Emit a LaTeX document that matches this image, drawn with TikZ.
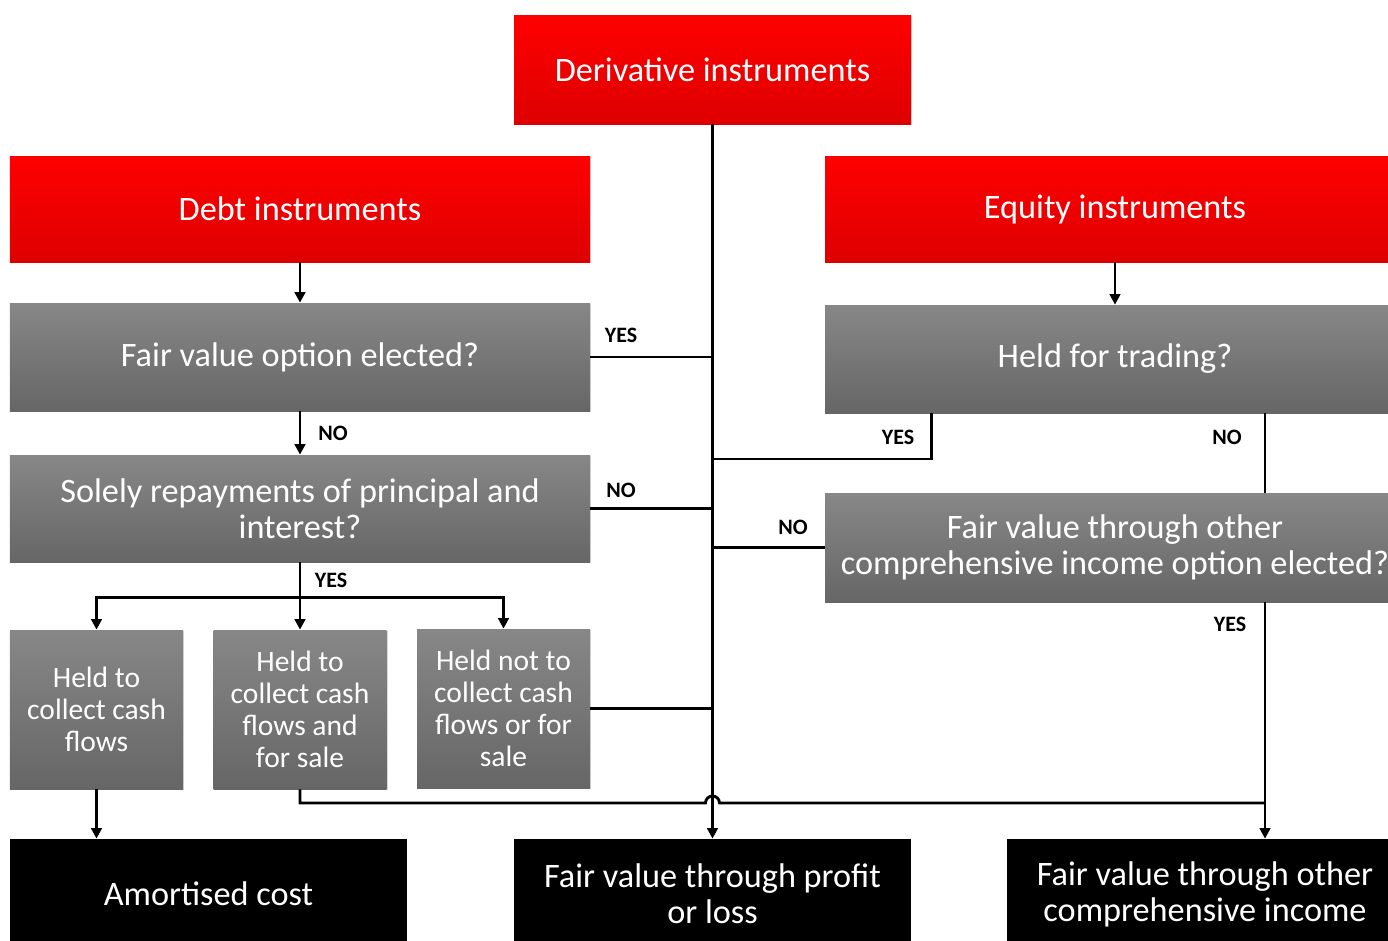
\documentclass[tikz,border=0pt]{standalone}
\usepackage{fontspec}
\setmainfont{Carlito}
\usetikzlibrary{arrows.meta, shadows, calc}

\begin{document}
\begin{tikzpicture}
	\tikzstyle{box} = [rectangle,draw=none,text=white,align=center,inner sep=2pt,drop shadow={opacity=0.3,shadow xshift=0.7pt,shadow yshift=-0.7pt}]
	\tikzstyle{redbox} = [box,top color=red,bottom color=red!87!black,font=\fontsize{19.5}{20.5}\selectfont]
	\tikzstyle{greybox} = [box,top color=black!47,bottom color=black!60,font=\fontsize{19.5}{20.5}\selectfont]
	\tikzstyle{smallbox} = [greybox,font=\fontsize{16.8}{18.2}\selectfont]
	\tikzstyle{blackbox} = [rectangle,fill=black,text=white,align=center,font=\fontsize{19.5}{20.5}\selectfont]
	\tikzstyle{line} = [line width=1.6pt,-]
	\tikzstyle{arrow} = [line width=1.6pt,-{Triangle[length=6pt,width=6pt]}]
	\tikzstyle{answer} = [font=\bfseries\fontsize{12.5}{14}\selectfont]
	\clip (0,0) rectangle (27.76,-18.82);
	% top row
	\node[redbox,minimum width=7.94cm,minimum height=2.18cm] (deriv) at (14.25,-1.39) {Derivative instruments};
	\node[redbox,minimum width=11.6cm,minimum height=2.12cm] (debt) at (6.0,-4.18) {Debt instruments};
	\node[redbox,minimum width=11.6cm,minimum height=2.12cm] (equity) at (22.3,-4.18) {Equity instruments};
	% questions
	\node[greybox,minimum width=11.6cm,minimum height=2.16cm] (fvo) at (6.0,-7.14) {Fair value option elected?};
	\node[greybox,minimum width=11.6cm,minimum height=2.14cm] (sppi) at (6.0,-10.17) {Solely repayments of principal and\\interest?};
	\node[greybox,minimum width=11.6cm,minimum height=2.16cm] (hft) at (22.3,-7.18) {Held for trading?};
	\node[greybox,minimum width=11.6cm,minimum height=2.18cm] (ociopt) at (22.3,-10.95) {Fair value through other\\comprehensive income option elected?};
	% business models
	\node[smallbox,minimum width=3.46cm,minimum height=3.18cm] (htc) at (1.93,-14.19) {Held to\\collect cash\\flows};
	\node[smallbox,minimum width=3.46cm,minimum height=3.18cm] (htcs) at (6.0,-14.19) {Held to\\collect cash\\flows and\\for sale};
	\node[smallbox,minimum width=3.46cm,minimum height=3.18cm] (other) at (10.07,-14.17) {Held not to\\collect cash\\flows or for\\sale};
	% outcomes
	\node[blackbox,minimum width=7.94cm,minimum height=2.2cm] (amort) at (4.17,-17.88) {Amortised cost};
	\node[blackbox,minimum width=7.94cm,minimum height=2.2cm] (fvpl) at (14.25,-17.88) {Fair value through profit\\or loss};
	\node[blackbox,minimum width=7.94cm,minimum height=2.2cm] (fvoci) at (24.1,-17.88) {Fair value through other\\comprehensive income};
	\coordinate (rx) at (25.3,0);
	\coordinate (jmp) at (14.25,-16.06);
	% debt side
	\draw[arrow] (debt) -- (fvo);
	\draw[arrow] (fvo) -- (sppi);
	\draw[line] (fvo.east) -- (fvo.east -| deriv.south);
	\draw[line] (sppi.east) -- (sppi.east -| deriv.south);
	\draw[line] (sppi.south) -- ++(0,-0.7) coordinate (split);
	\draw[arrow] (split) -| (htc.north);
	\draw[arrow] (split) -- (htcs.north);
	\draw[arrow] (split) -| (other.north);
	\draw[line] (other.east) -- (other.east -| deriv.south);
	\draw[arrow] (htc) -- (htc.south |- amort.north);
	\draw[line] (htcs.south) |- ([xshift=-0.14cm]jmp) arc[start angle=180,end angle=0,radius=0.14] -- (jmp -| rx);
	% derivatives
	\draw[arrow] (deriv) -- (fvpl);
	% equity side
	\draw[arrow] (equity) -- (hft);
	\draw[line] ($(hft.south west)+(2.14,0)$) |- (deriv.south |- 0,-9.18);
	\draw[line] (hft.south -| rx) -- (ociopt.north -| rx);
	\draw[line] (ociopt.west) -- (ociopt.west -| deriv.south);
	\draw[arrow] (ociopt.south -| rx) -- (fvoci.north -| rx);
	% answers
	\node[answer] (a1) at (12.42,-6.7) {YES};
	\node[answer] (a2) at (6.66,-8.66) {NO};
	\node[answer] (a3) at (12.42,-9.8) {NO};
	\node[answer] (a4) at (6.62,-11.6) {YES};
	\node[answer] (a5) at (17.96,-8.74) {YES};
	\node[answer] (a6) at (24.54,-8.74) {NO};
	\node[answer] (a7) at (15.86,-10.54) {NO};
	\node[answer] (a8) at (24.6,-12.48) {YES};
\end{tikzpicture}
\end{document}
